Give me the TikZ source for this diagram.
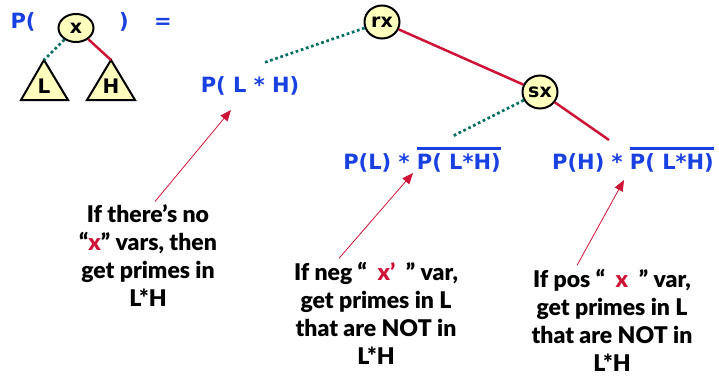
\documentclass[tikz,border=0pt]{standalone}
\usepackage{fontspec}
\newfontfamily\vfont{DejaVu Sans}
\newfontfamily\gfont{Lato}[BoldFont={Lato Black}]
\usetikzlibrary{arrows.meta,shapes.geometric}

\definecolor{pblue}{RGB}{25,65,225}
\definecolor{pred}{RGB}{205,20,55}
\definecolor{pteal}{RGB}{0,110,100}
\definecolor{pyellow}{RGB}{255,255,190}

% overline drawn as a thick bar above the text
\newcommand{\barover}[1]{\setbox0\hbox{#1}\rlap{\rule[\dimexpr\ht0+3pt\relax]{\wd0}{2.6pt}}\box0}

\tikzset{
  var/.style={ellipse, draw, line width=2pt, fill=pyellow, inner sep=0pt,
    minimum width=35pt, minimum height=33pt,
    font=\vfont\bfseries\fontsize{19}{19}\selectfont},
  lo/.style={pteal, line width=2.7pt, dash pattern=on 2.7pt off 2.7pt},
  hi/.style={pred, line width=2.5pt},
  formula/.style={pblue, font=\vfont\bfseries\fontsize{21}{21}\selectfont},
  note/.style={align=center, font=\gfont\bfseries\fontsize{23}{28}\selectfont},
  pointer/.style={pred, line width=0.8pt, -{Triangle[length=11pt,width=9pt]}}
}

\begin{document}
\begin{tikzpicture}[x=1pt,y=-1pt]
  \useasboundingbox (0,0) rectangle (719,378);

  % Left side: P( x ) =
  \node[formula] (pl) at (23,22) {P(};
  \node[formula] (pr) at (124,22) {)};
  \node[formula] (eq) at (163,23) {=};
  \node[var, minimum height=28pt] (x) at (76,28) {x};

  % Sub-trees L and H
  \draw[line width=2pt, fill=pyellow] (44,60) coordinate (Ltop) -- (68,100) -- (21,100) -- cycle;
  \draw[line width=2pt, fill=pyellow] (111,60) coordinate (Htop) -- (135,100) -- (87,100) -- cycle;
  \node[font=\vfont\bfseries\fontsize{20}{20}\selectfont] (L) at (44,86) {L};
  \node[font=\vfont\bfseries\fontsize{20}{20}\selectfont] (H) at (111,86) {H};
  \draw[lo] (x) -- (Ltop);
  \draw[hi] (x) -- (Htop);

  % Right side: result tree
  \node[var] (rx) at (382,22) {rx};
  \node[var] (sx) at (540,92) {sx};
  \node[formula] (lh) at (250,86) {P( L * H)};
  \node[formula, anchor=base] (lo) at (422,169) {P(L) * \barover{P( L*H)}};
  \node[formula, anchor=base] (hi) at (633,169) {P(H) * \barover{P( L*H)}};
  \coordinate (lhtop) at (263,63);
  \coordinate (lotop) at (453,136);
  \coordinate (hitop) at (609,140);
  \draw[lo] (rx) -- (lhtop);
  \draw[hi] (rx) -- (sx);
  \draw[lo] (sx) -- (lotop);
  \draw[hi] (sx) -- (hitop);

  % Notes
  \node[note] (n1) at (148,256) {If there’s no\\“{\color{pred}x}” vars, then\\get primes in\\L*H};
  \node[note] (n2) at (376,313) {If neg “\ \ {\color{pred}x’}\ \ ” var,\\get primes in L\\that are NOT in\\L*H};
  \node[note] (n3) at (612,320) {If pos “\ \ {\color{pred}x}\ \ ” var,\\get primes in L\\that are NOT in\\L*H};
  \coordinate (t1) at (231,110);
  \coordinate (t2) at (413,173);
  \coordinate (t3) at (624,180);
  \draw[pointer] ([xshift=7pt]n1.north) -- (t1);
  \draw[pointer] ([xshift=-37pt]n2.north) -- (t2);
  \draw[pointer] ([xshift=-35pt]n3.north) -- (t3);
\end{tikzpicture}
\end{document}
